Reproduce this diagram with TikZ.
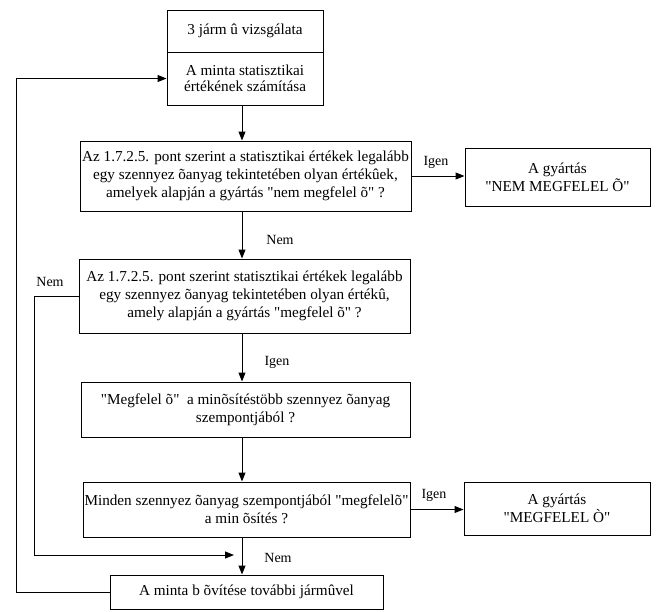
\documentclass[tikz,border=0pt]{standalone}
\usepackage{fontspec}
\setmainfont{Liberation Serif}[Ligatures=TeXOff]
\usetikzlibrary{arrows.meta}
\newcommand\qq{"}
\begin{document}
\begin{tikzpicture}[x=1pt,y=-1pt,
  box/.style={draw,line width=1pt,align=center,inner sep=0pt,font=\fontsize{15.2}{18}\selectfont},
  lbl/.style={font=\fontsize{14}{16}\selectfont,inner sep=0pt},
  arr/.style={line width=1pt,-{Triangle[length=9pt,width=7pt]}},
  ln/.style={line width=1pt}]
\useasboundingbox (0,0) rectangle (659,611);
\node[box,minimum width=156pt,minimum height=42pt] (b1) at (245,31) {3 járm û vizsgálata};
\node[box,minimum width=156pt,minimum height=53pt,font=\fontsize{15.2}{16.5}\selectfont] (b2) at (245,78.5) {A minta statisztikai\\értékének számítása};
\node[box,minimum width=331pt,minimum height=70pt] (b3) at (245.5,176) {Az 1.7.2.5. pont szerint a statisztikai értékek legalább\\egy szennyez õanyag tekintetében olyan értékûek,\\amelyek alapján a gyártás \qq nem megfelel õ\qq\ ?};
\node[box,minimum width=185pt,minimum height=58pt] (r1) at (557.5,177) {A gyártás\\\qq NEM MEGFELEL Õ\qq};
\node[box,minimum width=331pt,minimum height=74pt] (b4) at (244.5,296) {Az 1.7.2.5. pont szerint statisztikai értékek legalább\\egy szennyez õanyag tekintetében olyan értékû,\\amely alapján a gyártás \qq megfelel õ\qq\ ?};
\node[box,minimum width=329pt,minimum height=55pt] (b5) at (245.5,409.5) {\qq Megfelel õ\qq\ \ a minõsítéstöbb szennyez õanyag\\szempontjából ?};
\node[box,minimum width=327pt,minimum height=55pt] (b6) at (246.5,509.5) {Minden szennyez õanyag szempontjából \qq megfelelõ\qq\\a min õsítés ?};
\node[box,minimum width=186pt,minimum height=53pt] (r2) at (557,508.5) {A gyártás\\\qq MEGFELEL Ò\qq};
\node[box,minimum width=273pt,minimum height=34pt] (b7) at (246.5,592) {A minta b õvítése további jármûvel};
\coordinate (colx) at (242,0);
\coordinate (loopx) at (16,0);
\coordinate (leftx) at (34,0);
\coordinate (merge) at (234,555);
\draw[arr] (b2.south -| colx) -- (b3.north -| colx);
\draw[arr] (b3.south -| colx) -- (b4.north -| colx);
\draw[arr] (b4.south -| colx) -- (b5.north -| colx);
\draw[arr] (b5.south -| colx) -- (b6.north -| colx);
\draw[arr] (b6.south -| colx) -- (b7.north -| colx);
\draw[arr] (b3.east) -- (b3.east -| r1.west);
\draw[arr] (b6.east) -- (b6.east -| r2.west);
\draw[arr] (b4.west) -- (b4.west -| leftx) |- (merge);
\draw[arr] (b7.west) -- (b7.west -| loopx) |- (b2.west);
\node[lbl] (l1) at (436,162) {Igen};
\node[lbl] (l2) at (280,240) {Nem};
\node[lbl] (l3) at (50,282) {Nem};
\node[lbl] (l4) at (277,362) {Igen};
\node[lbl] (l5) at (434,495) {Igen};
\node[lbl] (l6) at (278,558) {Nem};
\end{tikzpicture}
\end{document}
